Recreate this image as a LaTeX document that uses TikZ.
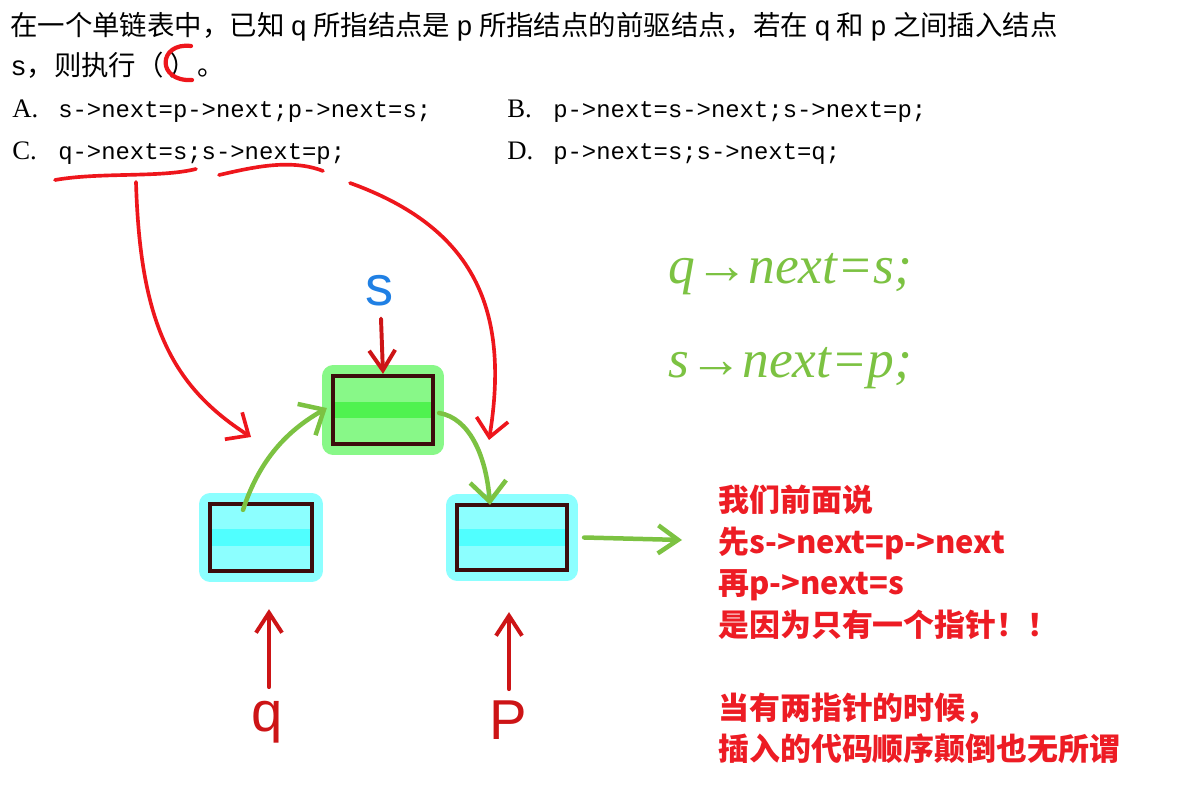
\documentclass[tikz,border=0pt]{standalone}
\usepackage{fontspec}
\setmainfont{Liberation Serif}
\setmonofont{Liberation Mono}
\setsansfont{Liberation Sans}
\newfontfamily\cjk{Noto Sans CJK SC}
\usetikzlibrary{calc,arrows.meta}
\definecolor{penred}{RGB}{238,22,28}
\definecolor{ptrred}{RGB}{205,20,22}
\definecolor{notered}{RGB}{237,28,36}
\definecolor{pengreen}{RGB}{124,194,66}
\definecolor{penblue}{RGB}{32,128,228}
\definecolor{boxline}{RGB}{60,12,12}
\definecolor{cyanlt}{RGB}{140,255,255}
\definecolor{cyanmid}{RGB}{80,255,255}
\definecolor{greenlt}{RGB}{136,248,136}
\definecolor{greenmid}{RGB}{80,242,80}

\begin{document}
\begin{tikzpicture}[x=0.025cm, y=-0.025cm,
  txt/.style={anchor=base west, inner sep=0pt},
  zh/.style={txt, font=\cjk\fontsize{19.5}{22}\selectfont},
  opt/.style={txt, font=\fontsize{19}{22}\selectfont},
  code/.style={txt, font=\ttfamily\fontsize{17}{20}\selectfont},
  redpen/.style={draw=penred, line width=2.6pt, line cap=round},
  redarrow/.style={redpen, -{Straight Barb[length=4.5mm, width=8mm]}},
  ptr/.style={draw=ptrred, line width=2.8pt, line cap=round, -{Straight Barb[length=5mm, width=6.5mm]}},
  greenpen/.style={draw=pengreen, line width=3.2pt, line cap=round, -{Straight Barb[length=5mm, width=9mm]}},
  listbox/.style={draw=boxline, line width=3pt, inner sep=0pt, fill=#1lt,
    preaction={draw=#1lt, line width=15pt, line join=round},
    path picture={\fill[#1mid] ([yshift=6pt]path picture bounding box.west) rectangle ([yshift=-6pt]path picture bounding box.east);}},
  hand/.style={inner sep=0pt, font=\sffamily\fontsize{40}{40}\selectfont}]
\path[fill=white, use as bounding box] (0,0) rectangle (1192,807);

\node[zh] (line1) at (10,36) {在一个单链表中，已知 \texttt{q} 所指结点是 \texttt{p} 所指结点的前驱结点，若在 \texttt{q} 和 \texttt{p} 之间插入结点};
\node[zh] (line2) at (10,76) {\texttt{s}，则执行（ ）。};
\node[opt] (optA) at (12,118) {A.};
\node[code] (codeA) at (58,118) {s->next=p->next;p->next=s;};
\node[opt] (optB) at (507,118) {B.};
\node[code] (codeB) at (553,118) {p->next=s->next;s->next=p;};
\node[opt] (optC) at (12,160) {C.};
\node[code] (codeC) at (58,160) {q->next=s;s->next=p;};
\node[opt] (optD) at (507,160) {D.};
\node[code] (codeD) at (553,160) {p->next=s;s->next=q;};

\draw[redpen, line width=3pt] (191,46) .. controls (158,42) and (156,82) .. (192,80);
\draw[redpen] (55,180) .. controls (100,172) and (160,178) .. (196,169);
\draw[redpen] (219,175) .. controls (250,168) and (290,158) .. (323,171);

\coordinate (ulq) at (136,182);
\coordinate (uls) at (350,183);
\coordinate (hitq) at (251,437);
\coordinate (hitp) at (489,440);
\draw[redarrow] (ulq) .. controls (140,320) and (170,385) .. (hitq);
\draw[redarrow] (uls) .. controls (475,228) and (510,310) .. (hitp);

\node[listbox=cyan, minimum width=2.55cm, minimum height=1.675cm] (q) at (261,537.5) {};
\node[listbox=green, minimum width=2.5cm, minimum height=1.7cm] (s) at (383,410) {};
\node[listbox=cyan, minimum width=2.75cm, minimum height=1.625cm] (p) at (512,537.5) {};

\draw[greenpen] ($(q.north)+(-18,8)$) .. controls +(18,-55) and +(-35,20) .. ($(s.west)+(-4,-2)$);
\draw[greenpen] ($(s.east)+(4,3)$) .. controls +(30,5) and +(-4,-50) .. ($(p.north)+(-22,2)$);
\coordinate (next) at (682,540);
\draw[greenpen, -{Straight Barb[length=5mm, width=7mm]}] ($(p.east)+(15,0)$) -- (next);

\node[hand, text=penblue] (slab) at (380,291) {s};
\draw[ptr] ($(slab.south)+(1,12)$) -- (s.north);
\node[hand, text=ptrred] (qlab) at (267,722) {q};
\draw[ptr] ($(q.south)+(8,114)$) -- ($(q.south)+(8,36)$);
\node[hand, text=ptrred] (plab) at (508,720) {P};
\draw[ptr] ($(p.south)+(-3,117)$) -- ($(p.south)+(-3,40)$);

\node[txt, text=pengreen, font=\itshape\fontsize{38}{38}\selectfont] (note1) at (668,284) {q→next=s;};
\node[txt, text=pengreen, font=\itshape\fontsize{38}{38}\selectfont] (note2) at (668,378) {s→next=p;};

\node[anchor=north west, inner sep=0pt, align=left, text=notered, font=\cjk\bfseries\fontsize{22}{29.5}\selectfont] (remark) at (718,485) {我们前面说\\先s->next=p->next\\再p->next=s\\是因为只有一个指针！！\\ \\当有两指针的时候，\\插入的代码顺序颠倒也无所谓};
\end{tikzpicture}
\end{document}
